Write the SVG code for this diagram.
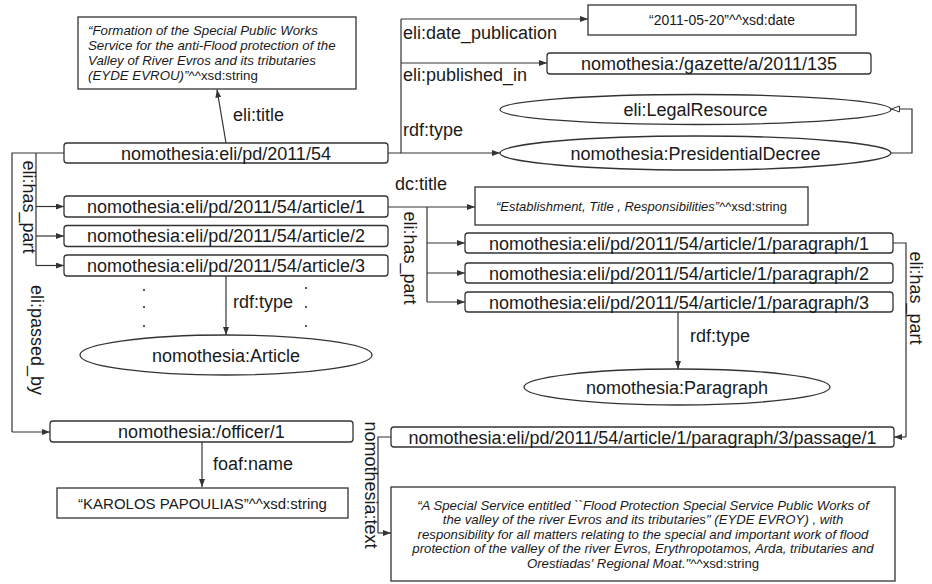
<svg xmlns="http://www.w3.org/2000/svg" width="932" height="584" viewBox="0 0 932 584">
<style>
text{font-family:"Liberation Sans",Arial,sans-serif;fill:#1a1a1a}
.n{font-size:18px;text-anchor:middle}
.lbl{font-size:18px}
.it{font-style:italic}
.box{fill:#fff;stroke:#333;stroke-width:1.3}
.ell{fill:#fff;stroke:#333;stroke-width:1.3}
.c{fill:none;stroke:#333;stroke-width:1.2}
.a{marker-end:url(#arr)}
</style>
<defs>
<marker id="arr" viewBox="0 0 8 6" refX="8" refY="3" markerWidth="8" markerHeight="6" markerUnits="userSpaceOnUse" orient="auto">
<path d="M0,0 L8,3 L0,6 z" fill="#333"/>
</marker>
<marker id="open" viewBox="0 0 10 8" refX="9.5" refY="4" markerWidth="10" markerHeight="8" markerUnits="userSpaceOnUse" orient="auto">
<path d="M1,1 L9,4 L1,7 z" fill="#fff" stroke="#333" stroke-width="1"/>
</marker>
</defs>
<rect width="932" height="584" fill="#fff"/>

<g id="connectors">
<path class="c a" d="M226,143 L217,89.5"/>
<path class="c" d="M388,153 H401 V19"/>
<path class="c a" d="M401,19 H588"/>
<path class="c a" d="M401,63 H547"/>
<path class="c a" d="M401,153 H500"/>
<path class="c" d="M891,153 H912 V109 H891" style="marker-end:url(#open)"/>
<path class="c" d="M64,153 H12 V432"/>
<path class="c a" d="M12,432 H50"/>
<path class="c" d="M36,153 V265.5"/>
<path class="c a" d="M36,206.5 H64"/>
<path class="c a" d="M36,236 H64"/>
<path class="c a" d="M36,265.5 H64"/>
<path class="c a" d="M226,276 V335"/>
<path class="c a" d="M388,207 H475"/>
<path class="c" d="M427,207 V302"/>
<path class="c a" d="M427,243 H465"/>
<path class="c a" d="M427,273 H465"/>
<path class="c a" d="M427,302 H465"/>
<path class="c a" d="M678,312 V369"/>
<path class="c" d="M893,243 H906 V437"/>
<path class="c a" d="M906,437 H894"/>
<path class="c a" d="M202,442 V487"/>
<path class="c" d="M391,437 H378 V533"/>
<path class="c a" d="M378,533 H391"/>
</g>

<g id="edge-labels">
<text class="lbl" x="233" y="121">eli:title</text>
<text class="lbl" x="403" y="39">eli:date_publication</text>
<text class="lbl" x="403" y="81">eli:published_in</text>
<text class="lbl" x="403" y="136">rdf:type</text>
<text class="lbl" x="395" y="190">dc:title</text>
<text class="lbl" x="233" y="308">rdf:type</text>
<text class="lbl" x="690" y="342">rdf:type</text>
<text class="lbl" x="213" y="470">foaf:name</text>
<text class="lbl" text-anchor="middle" transform="translate(23,207) rotate(90)">eli:has_part</text>
<text class="lbl" text-anchor="middle" transform="translate(31,340) rotate(90)">eli:passed_by</text>
<text class="lbl" text-anchor="middle" transform="translate(404,258) rotate(90)">eli:has_part</text>
<text class="lbl" text-anchor="middle" transform="translate(910,298) rotate(90)">eli:has_part</text>
<text class="lbl" text-anchor="middle" transform="translate(365,485) rotate(90)">nomothesia:text</text>
</g>

<g id="dots" fill="#333">
<circle cx="144" cy="290" r="1.1"/><circle cx="144" cy="307" r="1.1"/><circle cx="144" cy="326" r="1.1"/>
<circle cx="306" cy="288" r="1.1"/><circle cx="306" cy="307" r="1.1"/><circle cx="306" cy="326" r="1.1"/>
</g>

<g id="title-literal">
<rect class="box" x="78" y="17" width="278" height="72"/>
<text x="88" y="35" font-size="13.3" class="it">“Formation of the Special Public Works</text>
<text x="88" y="50" font-size="13.3" class="it">Service for the anti-Flood protection of the</text>
<text x="88" y="65" font-size="13.3" class="it">Valley of River Evros and its tributaries</text>
<text x="88" y="80" font-size="13.3"><tspan class="it">(EYDE EVROU)”</tspan>^^xsd:string</text>
</g>

<g id="pd">
<rect class="box" x="64" y="143" width="324" height="20" rx="3"/>
<text class="n" x="226" y="159.5">nomothesia:eli/pd/2011/54</text>
</g>

<g id="date">
<rect class="box" x="588" y="5" width="268" height="30"/>
<text x="722" y="25" font-size="14" text-anchor="middle">“2011-05-20”^^xsd:date</text>
</g>

<g id="gazette">
<rect class="box" x="547" y="53" width="324" height="21" rx="3"/>
<text class="n" x="709" y="69.5">nomothesia:/gazette/a/2011/135</text>
</g>

<g id="legalresource">
<ellipse class="ell" cx="695.5" cy="109.5" rx="195.5" ry="15"/>
<text class="n" x="695.5" y="116">eli:LegalResource</text>
</g>

<g id="presidentialdecree">
<ellipse class="ell" cx="695.5" cy="153" rx="195.5" ry="17"/>
<text class="n" x="695.5" y="159.5">nomothesia:PresidentialDecree</text>
</g>

<g id="article1">
<rect class="box" x="64" y="196" width="324" height="21" rx="3"/>
<text class="n" x="226" y="212.5">nomothesia:eli/pd/2011/54/article/1</text>
</g>
<g id="article2">
<rect class="box" x="64" y="225.5" width="324" height="21" rx="3"/>
<text class="n" x="226" y="242">nomothesia:eli/pd/2011/54/article/2</text>
</g>
<g id="article3">
<rect class="box" x="64" y="255" width="324" height="21" rx="3"/>
<text class="n" x="226" y="271.5">nomothesia:eli/pd/2011/54/article/3</text>
</g>

<g id="article-class">
<ellipse class="ell" cx="226" cy="355" rx="146" ry="20"/>
<text class="n" x="226" y="361.5">nomothesia:Article</text>
</g>

<g id="article-title">
<rect class="box" x="475" y="187" width="333" height="38"/>
<text x="641.5" y="211" font-size="13" text-anchor="middle"><tspan class="it">“Establishment, Title , Responsibilities”</tspan>^^xsd:string</text>
</g>

<g id="paragraph1">
<rect class="box" x="465" y="233" width="428" height="20" rx="3"/>
<text class="n" x="679" y="249.5">nomothesia:eli/pd/2011/54/article/1/paragraph/1</text>
</g>
<g id="paragraph2">
<rect class="box" x="465" y="263" width="428" height="20" rx="3"/>
<text class="n" x="679" y="279.5">nomothesia:eli/pd/2011/54/article/1/paragraph/2</text>
</g>
<g id="paragraph3">
<rect class="box" x="465" y="292" width="428" height="20" rx="3"/>
<text class="n" x="679" y="308.5">nomothesia:eli/pd/2011/54/article/1/paragraph/3</text>
</g>

<g id="paragraph-class">
<ellipse class="ell" cx="677" cy="387" rx="153" ry="18"/>
<text class="n" x="677" y="393.5">nomothesia:Paragraph</text>
</g>

<g id="officer">
<rect class="box" x="50" y="421" width="303" height="21" rx="3"/>
<text class="n" x="201.5" y="437.5">nomothesia:/officer/1</text>
</g>

<g id="officer-name">
<rect class="box" x="57" y="488" width="291" height="30"/>
<text x="202.5" y="508.5" font-size="15" text-anchor="middle">“KAROLOS PAPOULIAS”^^xsd:string</text>
</g>

<g id="passage">
<rect class="box" x="391" y="427" width="503" height="20" rx="3"/>
<text class="n" x="642.5" y="443.5">nomothesia:eli/pd/2011/54/article/1/paragraph/3/passage/1</text>
</g>

<g id="passage-text">
<rect class="box" x="391" y="487" width="504" height="94"/>
<g font-size="13.2" text-anchor="middle">
<text x="643" y="509.5" class="it">“A Special Service entitled ``Flood Protection Special Service Public Works of</text>
<text x="643" y="524" class="it">the valley of the river Evros and its tributaries" (EYDE EVROY) , with</text>
<text x="643" y="538.5" class="it">responsibility for all matters relating to the special and important work of flood</text>
<text x="643" y="553" class="it">protection of the valley of the river Evros, Erythropotamos, Arda, tributaries and</text>
<text x="643" y="567.5"><tspan class="it">Orestiadas' Regional Moat."</tspan>^^xsd:string</text>
</g>
</g>
</svg>
